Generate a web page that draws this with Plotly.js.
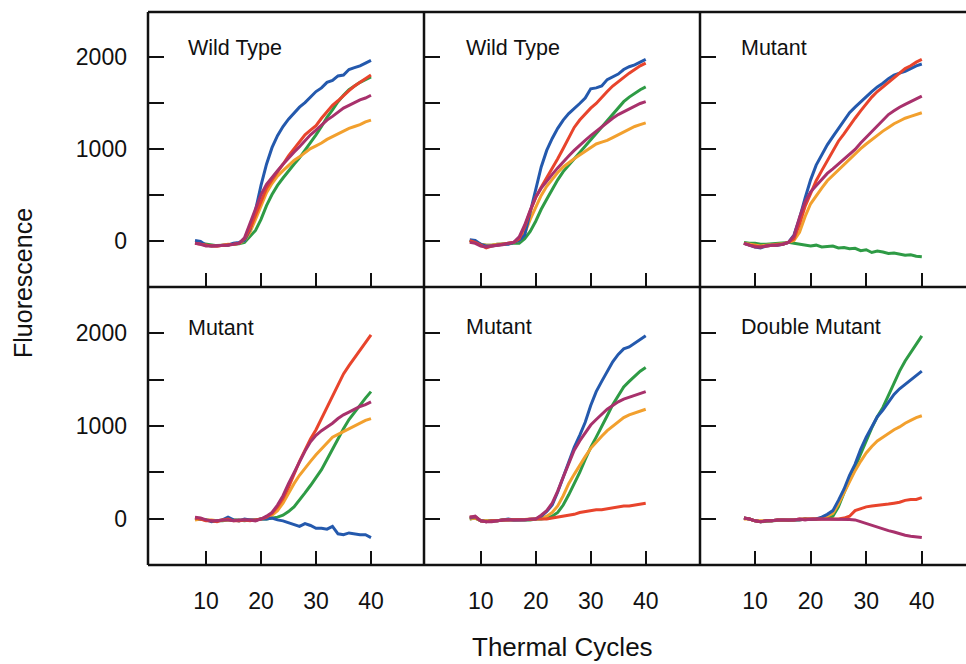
<!DOCTYPE html>
<html>
<head>
<meta charset="utf-8">
<script src="https://cdn.plot.ly/plotly-3.0.1.min.js"></script>
<style>html,body{margin:0;padding:0;background:#fff;}#chart{width:966px;height:664px;}</style>
</head>
<body>
<div id="chart"></div>
<script>
// ---- data ----
var cycles = [8,9,10,11,12,13,14,15,16,17,18,19,20,21,22,23,24,25,26,27,28,29,30,31,32,33,34,35,36,37,38,39,40];
var panelTitles = ["Wild Type", "Wild Type", "Mutant", "Mutant", "Mutant", "Double Mutant"];
var xTickVals = [10, 20, 30, 40];
var yTickVals = [0, 500, 1000, 1500, 2000];
var yTickText = ["0", "", "1000", "", "2000"];
var seriesNames = ["green", "orange", "blue", "red", "magenta"];

// Panel 1: Wild Type
var p1_blue    = [0,-10,-50,-60,-55,-50,-50,-30,-20,0,120,330,600,830,1010,1140,1240,1320,1390,1450,1500,1560,1620,1660,1720,1740,1790,1800,1860,1880,1900,1930,1960];
var p1_red     = [-30,-40,-50,-60,-60,-55,-45,-40,-30,20,130,280,440,570,660,740,830,920,1000,1080,1150,1200,1250,1330,1400,1470,1520,1580,1630,1680,1720,1760,1800];
var p1_magenta = [-30,-40,-60,-60,-60,-50,-50,-40,-30,30,180,350,500,610,690,760,830,900,960,1020,1090,1150,1200,1260,1310,1350,1400,1440,1470,1500,1530,1550,1580];
var p1_orange  = [-30,-30,-50,-55,-60,-50,-40,-40,-30,0,90,230,380,520,620,700,760,820,870,910,960,1000,1030,1060,1100,1130,1160,1190,1220,1240,1260,1290,1310];
var p1_green   = [-20,-30,-40,-50,-55,-50,-45,-40,-35,-20,40,110,230,380,500,600,680,760,830,900,980,1060,1150,1240,1340,1420,1510,1580,1640,1680,1720,1750,1780];

// Panel 2: Wild Type
var p2_blue    = [10,0,-40,-60,-60,-50,-40,-40,-20,0,60,300,560,800,980,1110,1220,1310,1380,1430,1490,1550,1650,1660,1680,1750,1780,1810,1860,1890,1910,1940,1970];
var p2_red     = [0,-20,-50,-80,-60,-50,-40,-30,-20,20,150,320,470,580,680,780,890,1000,1120,1230,1310,1380,1440,1490,1560,1620,1680,1730,1780,1820,1860,1900,1930];
var p2_magenta = [-20,-30,-60,-70,-60,-55,-45,-30,-20,40,170,330,470,570,650,720,790,860,920,980,1040,1090,1140,1190,1240,1290,1330,1370,1400,1430,1460,1490,1510];
var p2_orange  = [0,-20,-40,-50,-50,-40,-40,-30,-20,0,80,230,370,490,590,670,740,800,850,890,930,970,1010,1050,1070,1090,1120,1150,1180,1210,1240,1260,1280];
var p2_green   = [0,-20,-40,-50,-50,-40,-40,-35,-30,-30,20,100,210,340,450,560,660,750,820,890,950,1020,1100,1160,1240,1310,1380,1450,1510,1560,1600,1640,1670];

// Panel 3: Mutant
var p3_blue    = [-30,-50,-70,-80,-60,-50,-50,-40,-20,60,240,460,660,820,930,1040,1130,1220,1310,1390,1450,1510,1570,1620,1670,1710,1760,1800,1820,1840,1870,1900,1920];
var p3_red     = [-30,-50,-60,-70,-60,-50,-45,-40,-20,20,180,370,520,650,760,870,980,1080,1160,1250,1330,1410,1490,1560,1620,1670,1720,1780,1830,1870,1900,1940,1970];
var p3_magenta = [-30,-50,-70,-70,-60,-50,-50,-40,-20,50,250,420,530,600,670,730,780,830,880,940,990,1060,1120,1180,1240,1300,1370,1410,1450,1480,1510,1540,1570];
var p3_orange  = [-30,-40,-50,-60,-50,-45,-40,-35,-20,0,90,260,400,490,570,650,710,770,830,890,950,1000,1050,1100,1140,1190,1230,1270,1300,1330,1350,1370,1390];
var p3_green   = [-20,-30,-30,-40,-40,-35,-30,-30,-20,-30,-40,-50,-60,-50,-70,-65,-60,-80,-75,-90,-85,-110,-100,-130,-115,-125,-140,-135,-150,-160,-155,-170,-175];

// Panel 4: Mutant
var p4_blue    = [10,0,-10,-30,-20,-10,20,-10,-20,0,-10,-10,0,0,10,-10,-20,-40,-60,-80,-50,-70,-100,-100,-110,-80,-160,-170,-150,-160,-170,-170,-200];
var p4_red     = [10,0,-20,-20,-30,-10,0,-20,-20,-10,-20,-10,0,20,60,130,220,340,490,620,740,860,960,1080,1200,1320,1440,1560,1650,1730,1820,1900,1980];
var p4_magenta = [20,10,-10,-20,-20,-10,-10,-20,-10,-10,-10,-20,0,30,70,150,250,380,500,620,730,830,900,950,990,1030,1080,1120,1150,1180,1210,1230,1260];
var p4_orange  = [-10,0,-10,-10,-20,-10,-10,-10,-20,-10,-10,-10,0,10,40,90,170,280,380,470,550,620,690,750,820,880,910,940,970,1000,1030,1060,1080];
var p4_green   = [0,0,-10,-20,-20,-20,-10,-10,-10,-20,-10,-10,0,0,10,20,40,80,130,200,280,360,440,530,640,750,870,970,1070,1150,1230,1300,1370];

// Panel 5: Mutant
var p5_blue    = [10,20,-20,-30,-20,-20,-10,0,-10,-10,-10,-5,0,30,80,150,290,450,620,770,900,1040,1220,1370,1480,1590,1690,1770,1830,1850,1890,1930,1970];
var p5_red     = [20,20,-20,-30,-20,-20,-10,-10,-10,-10,-10,-5,0,0,0,10,20,30,40,50,70,80,90,100,100,110,120,130,140,140,150,160,170];
var p5_magenta = [20,30,-20,-30,-30,-20,-10,-10,-10,-10,-10,0,0,40,90,170,300,450,600,740,840,930,1010,1070,1130,1180,1220,1260,1290,1310,1330,1350,1370];
var p5_orange  = [0,10,-20,-20,-20,-20,-10,-10,-10,-10,-5,0,0,10,30,70,140,250,380,480,580,670,760,830,890,950,1000,1050,1090,1120,1140,1160,1180];
var p5_green   = [0,10,-20,-20,-20,-20,-10,-10,-10,-10,-10,-10,0,0,10,30,70,150,260,380,500,640,770,880,990,1110,1230,1330,1420,1480,1540,1590,1630];

// Panel 6: Double Mutant
var p6_blue    = [10,0,-20,-30,-20,-20,-10,-10,-10,-10,-10,0,-5,0,20,50,90,200,320,470,590,750,880,990,1100,1170,1260,1340,1400,1450,1500,1550,1590];
var p6_red     = [10,0,-20,-30,-20,-20,-10,-10,-10,-10,0,0,0,0,0,0,0,0,10,30,90,110,130,140,145,150,160,170,180,200,210,210,230];
var p6_magenta = [10,0,-20,-30,-20,-20,-10,-10,-10,-10,0,-10,0,0,0,0,0,0,0,-5,-10,-30,-50,-70,-90,-110,-125,-140,-160,-175,-185,-195,-200];
var p6_orange  = [0,0,-20,-20,-20,-20,-10,-10,-10,-10,-10,0,0,0,10,30,60,160,280,400,520,620,710,780,840,880,920,960,990,1030,1060,1090,1110];
var p6_green   = [10,0,-20,-30,-25,-20,-20,-10,-15,-10,-10,0,-5,0,0,10,30,130,280,420,560,720,860,980,1100,1200,1330,1470,1590,1700,1790,1880,1970];

var panels = [
  {green:p1_green, orange:p1_orange, blue:p1_blue, red:p1_red, magenta:p1_magenta},
  {green:p2_green, orange:p2_orange, blue:p2_blue, red:p2_red, magenta:p2_magenta},
  {green:p3_green, orange:p3_orange, blue:p3_blue, red:p3_red, magenta:p3_magenta},
  {green:p4_green, orange:p4_orange, blue:p4_blue, red:p4_red, magenta:p4_magenta},
  {green:p5_green, orange:p5_orange, blue:p5_blue, red:p5_red, magenta:p5_magenta},
  {green:p6_green, orange:p6_orange, blue:p6_blue, red:p6_red, magenta:p6_magenta}
];

// ---- styling / layout ----
var colors = {green:"#2e9b45", orange:"#f2a02e", blue:"#2459ad", red:"#e8442c", magenta:"#a8316c"};
var W = 966, H = 664;
function px(x){ return x / W; }
function py(y){ return 1 - y / H; }
var FONT = "Liberation Sans, Arial, Helvetica, sans-serif";

var colX = [[148,424],[424,700],[700,966]];
var colRange = [[-0.55,49.64],[-0.31,49.87],[0.1,47.95]];
var rowY = [[12,287],[287,565]];
var rowRange = [[-505,2485],[-495,2495]];

var traces = [];
var layout = {
  width: W, height: H,
  margin: {l:0, r:0, t:0, b:0},
  paper_bgcolor: "#ffffff",
  plot_bgcolor: "rgba(0,0,0,0)",
  showlegend: false,
  font: {family: FONT, color: "#111", size: 23},
  annotations: [],
  shapes: []
};

for (var i = 0; i < 6; i++) {
  var r = Math.floor(i / 3), c = i % 3;
  var n = i + 1;
  var xa = "x" + (n === 1 ? "" : n), ya = "y" + (n === 1 ? "" : n);
  seriesNames.forEach(function(s){
    traces.push({
      type: "scatter", mode: "lines",
      x: cycles, y: panels[i][s],
      xaxis: xa, yaxis: ya,
      line: {color: colors[s], width: 3},
      hoverinfo: "skip"
    });
  });
  layout["xaxis" + (n === 1 ? "" : n)] = {
    domain: [px(colX[c][0]), px(colX[c][1])],
    range: colRange[c],
    anchor: ya,
    tickmode: "array", tickvals: xTickVals,
    ticks: "inside", ticklen: 14, tickwidth: 2, tickcolor: "#111",
    showticklabels: r === 1,
    ticklabelstandoff: 20,
    tickfont: {family: FONT, size: 23, color: "#111"},
    showline: false, showgrid: false, zeroline: false, fixedrange: true
  };
  layout["yaxis" + (n === 1 ? "" : n)] = {
    domain: [py(rowY[r][1]), py(rowY[r][0])],
    range: rowRange[r],
    anchor: xa,
    tickmode: "array", tickvals: yTickVals, ticktext: yTickText,
    ticks: "inside", ticklen: 16, tickwidth: 2, tickcolor: "#111",
    showticklabels: c === 0,
    ticklabelstandoff: 20,
    tickfont: {family: FONT, size: 23, color: "#111"},
    showline: false, showgrid: false, zeroline: false, fixedrange: true
  };
}

// panel labels
var labelPos = [[186,48],[464,48],[739,48],[186,328],[464,327],[739,327]];
panelTitles.forEach(function(t, i){
  layout.annotations.push({
    xref: "paper", yref: "paper",
    x: px(labelPos[i][0]), y: py(labelPos[i][1]),
    xanchor: "left", yanchor: "middle",
    text: t, showarrow: false,
    font: {family: FONT, size: 21.5, color: "#111"}
  });
});

// axis titles
layout.annotations.push({
  xref: "paper", yref: "paper", x: px(23), y: py(283),
  xanchor: "center", yanchor: "middle", textangle: -90,
  text: "Fluorescence", showarrow: false,
  font: {family: FONT, size: 25, color: "#111"}
});
layout.annotations.push({
  xref: "paper", yref: "paper", x: px(562), y: py(647),
  xanchor: "center", yanchor: "middle",
  text: "Thermal Cycles", showarrow: false,
  font: {family: FONT, size: 26, color: "#111"}
});

// panel frames
function seg(x0,y0,x1,y1){
  return {type:"line", xref:"paper", yref:"paper", x0:px(x0), y0:py(y0), x1:px(x1), y1:py(y1),
          line:{color:"#111", width:2.5}, layer:"above"};
}
[12,287,565].forEach(function(y){ layout.shapes.push(seg(148,y,966,y)); });
[148,424,700].forEach(function(x){ layout.shapes.push(seg(x,12,x,565)); });

Plotly.newPlot("chart", traces, layout, {staticPlot: true, displayModeBar: false});
</script>
</body>
</html>
